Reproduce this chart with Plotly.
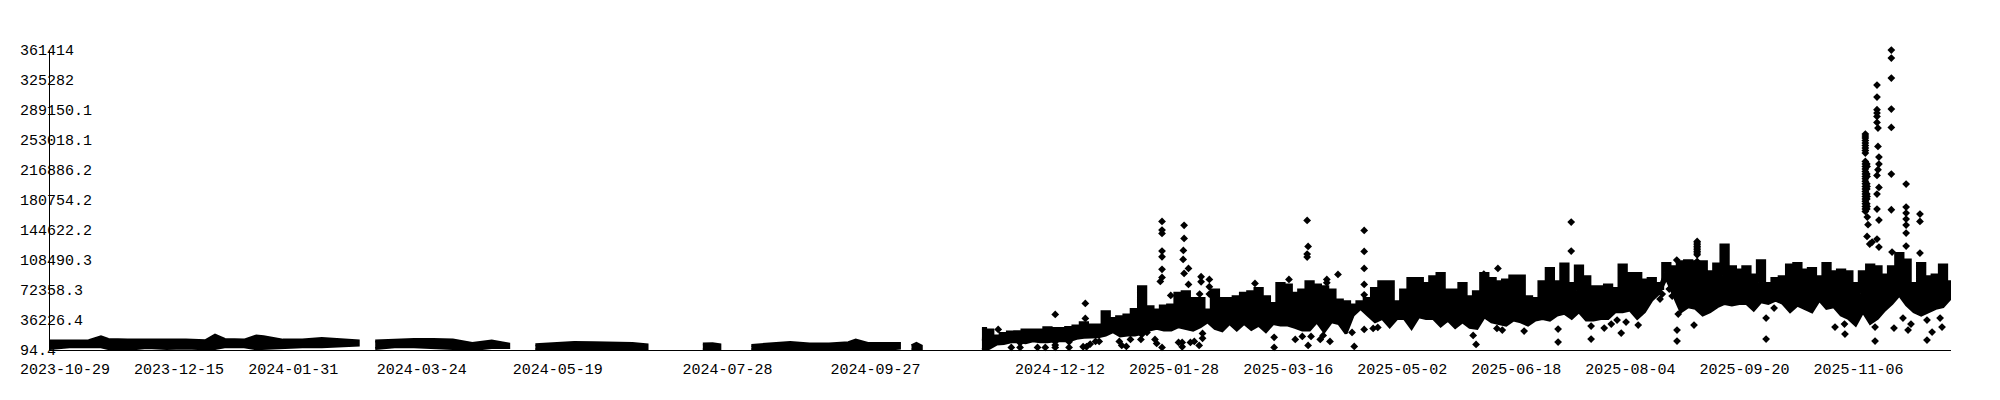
import pandas as pd
import plotly.graph_objects as go

# ---- axis labels
y_tick_values = [94.4, 36226.4, 72358.3, 108490.3, 144622.2, 180754.2, 216886.2, 253018.1, 289150.1, 325282, 361414]
y_tick_labels = ["94.4", "36226.4", "72358.3", "108490.3", "144622.2", "180754.2", "216886.2", "253018.1", "289150.1", "325282", "361414"]
x_tick_dates = ["2023-10-29", "2023-12-15", "2024-01-31", "2024-03-24", "2024-05-19", "2024-07-28", "2024-09-27",
                "2024-12-12", "2025-01-28", "2025-03-16", "2025-05-02", "2025-06-18", "2025-08-04", "2025-09-20", "2025-11-06"]
x_start = "2023-10-29"
x_end = "2025-12-20 07:00"

# ---- early periods: per-period low/high of the dense cloud (thousands)
seg1_dates = ["2023-10-29", "2023-11-06", "2023-11-14", "2023-11-19", "2023-11-22", "2023-11-30", "2023-12-08", "2023-12-16", "2023-12-24", "2024-01-01",
              "2024-01-05", "2024-01-09", "2024-01-17", "2024-01-22", "2024-01-25", "2024-02-02", "2024-02-10", "2024-02-18", "2024-02-26", "2024-03-04"]
seg1_high = [10.8, 10.8, 11.2, 16.0, 12.8, 12.0, 12.0, 12.8, 12.0, 11.2, 18.0, 12.8, 12.0, 17.0, 16.0, 12.0, 12.0, 14.0, 12.0, 11.0]
seg1_low = [2.0, 4.0, 4.0, 4.0, 2.0, 0.8, 3.2, 2.0, 2.4, 1.6, 2.0, 4.0, 4.0, 1.6, 1.6, 3.2, 4.0, 4.0, 5.2, 6.0]

seg2_dates = ["2024-03-11", "2024-03-19", "2024-03-27", "2024-04-04", "2024-04-12", "2024-04-20", "2024-04-28", "2024-05-05"]
seg2_high = [10.8, 12.0, 12.8, 12.8, 12.0, 8.0, 10.8, 7.2]
seg2_low = [2.0, 4.0, 4.0, 3.2, 2.0, 0.5, 3.2, 3.2]

seg3_dates = ["2024-05-16", "2024-05-24", "2024-06-01", "2024-06-09", "2024-06-17", "2024-06-25", "2024-07-01"]
seg3_high = [6.4, 8.0, 9.2, 8.8, 8.0, 8.0, 6.4]
seg3_low = [0.5, 0.5, 0.8, 1.6, 0.5, 0.8, 1.6]

seg4_dates = ["2024-07-24", "2024-07-28", "2024-07-31"]
seg4_high = [7.2, 7.6, 6.4]
seg4_low = [0.5, 0.8, 0.8]

seg5_dates = ["2024-08-13", "2024-08-21", "2024-08-29", "2024-09-06", "2024-09-14", "2024-09-22", "2024-09-25", "2024-09-30", "2024-10-08", "2024-10-13"]
seg5_high = [5.6, 7.2, 9.2, 7.2, 7.2, 8.8, 12.0, 8.0, 8.0, 8.0]
seg5_low = [0.5, 0.5, 0.8, 0.5, 0.5, 0.5, 0.5, 0.5, 0.8, 2.4]

seg6_dates = ["2024-10-18", "2024-10-20", "2024-10-22"]
seg6_high = [5.0, 8.0, 5.0]
seg6_low = [0.5, 0.5, 0.5]

# ---- main period: low/high of the dense cloud, one pair every three days from 2024-11-16 (thousands)
main_start = "2024-11-16"
main_high = [26.1, 24.1, 16.9, 20.1, 21.7, 22.1, 24.1, 24.1, 24.1, 26.9, 26.1, 26.1, 27.3, 28.9, 32.9, 30.1, 30.1, 46.2, 38.1, 40.2,
             42.2, 49.0, 76.3, 52.2, 48.2, 53.0, 54.2, 68.3, 70.3, 62.2, 62.2, 48.2, 72.3, 62.2, 62.2, 64.2, 68.3, 70.3, 74.3, 64.2,
             56.2, 80.3, 78.3, 68.3, 72.3, 82.3, 78.3, 76.3, 72.3, 60.2, 58.2, 54.2, 58.2, 62.2, 74.3, 82.3, 82.3, 58.2, 72.3, 86.3,
             86.3, 80.3, 88.3, 92.3, 72.3, 72.3, 80.3, 64.2, 70.3, 92.3, 86.3, 82.3, 84.3, 89.1, 89.1, 64.2, 62.2, 82.3, 98.4, 82.3,
             103.6, 80.3, 101.2, 88.3, 76.3, 76.3, 78.3, 74.3, 102.4, 92.3, 92.3, 84.3, 86.3, 80.3, 104.4, 100.4, 106.4, 107.6, 106.4, 106.4,
             94.4, 103.6, 126.5, 100.4, 96.4, 100.4, 90.3, 107.6, 80.3, 86.3, 88.3, 102.4, 104.4, 96.4, 98.4, 88.3, 104.4, 94.4, 96.4, 94.4,
             80.3, 94.4, 102.4, 100.4, 90.3, 100.4, 116.4, 108.4, 80.3, 104.4, 88.3, 90.3, 102.4, 82.3]
main_low = [0.5, 2.0, 7.2, 8.0, 10.0, 10.0, 8.8, 11.2, 10.0, 10.0, 11.2, 11.2, 11.2, 14.1, 15.3, 16.1, 16.1, 18.1, 22.1, 16.9,
            18.1, 18.1, 20.1, 24.1, 26.1, 24.1, 24.1, 28.1, 26.1, 24.1, 28.1, 34.1, 26.1, 23.3, 32.1, 24.1, 32.1, 24.9, 30.1, 22.1,
            32.1, 30.1, 30.1, 27.3, 24.1, 24.1, 34.1, 22.1, 34.1, 32.1, 20.1, 42.2, 50.2, 42.2, 34.1, 38.1, 28.1, 38.1, 38.1, 26.1,
            40.2, 38.1, 38.1, 28.9, 36.1, 27.3, 34.1, 27.3, 26.1, 40.2, 34.1, 32.1, 30.1, 36.1, 34.1, 30.1, 36.1, 38.1, 36.1, 42.2,
            44.2, 38.1, 46.2, 36.1, 36.1, 38.1, 38.1, 46.2, 46.2, 48.2, 38.1, 46.2, 60.2, 68.3, 86.3, 66.2, 46.2, 52.2, 50.2, 42.2,
            46.2, 52.2, 56.2, 54.2, 56.2, 56.2, 48.2, 58.2, 56.2, 60.2, 56.2, 46.2, 54.2, 50.2, 46.2, 60.2, 50.2, 52.2, 42.2, 38.1,
            30.1, 46.2, 32.1, 38.1, 48.2, 56.2, 66.2, 54.2, 46.2, 42.2, 46.2, 50.2, 52.2, 62.2]

# ---- isolated readings: days since 2023-10-29, value (thousands)
outlier_days = [458.2, 458.2, 458.2, 458.2, 458.2, 458.2, 458.2, 457.5, 467.3, 467.3, 467.0, 466.9, 467.3, 469.1, 469.1, 461.8,
                474.3, 474.3, 477.7, 477.7, 477.7, 473.7, 474.2, 518.0, 518.4, 518.0, 518.0, 541.5, 541.5, 541.5, 541.5, 541.5,
                530.7, 526.1, 526.1, 510.5, 496.5, 426.6, 426.6, 414.2, 390.7, 504.4, 504.4, 513.1, 516.0, 518.4, 519.6, 523.4,
                524.6, 527.4, 537.4, 536.5, 541.5, 545.2, 547.1, 396.1, 399.7, 406.9, 410.1, 414.2, 419.9, 425.7, 427.1, 428.6,
                430.8, 432.3, 440.6, 441.6, 443.5, 445.2, 449.5, 449.9, 452.0, 455.3, 456.0, 458.2, 465.0, 466.5, 466.5, 469.9,
                471.5, 473.5, 474.9, 474.9, 586.4, 587.6, 596.2, 596.6, 590.8, 414.2, 419.9, 414.2, 419.9, 399.7,
                626.8, 626.8, 678.7, 678.7, 678.7, 678.7, 678.7, 678.7, 678.7, 758.7, 758.7, 758.7, 758.7, 758.7, 758.7, 758.7,
                752.8, 752.8, 752.8, 752.8, 752.8, 752.8, 753.2, 753.2, 753.6, 753.6, 753.2, 752.8, 753.6, 752.8, 752.8, 753.6,
                752.8, 753.6, 764.8, 764.8, 764.8, 764.8, 764.8, 764.8, 764.8, 770.5, 770.5, 770.5, 759.0,
                748.0, 748.0, 748.0, 748.0, 748.0, 748.0, 748.0, 748.0, 748.0, 748.0, 748.0, 748.0, 748.0, 748.0, 748.0, 748.0,
                748.7, 748.7, 748.7, 748.7, 748.7, 748.8, 749.1, 748.7, 749.8, 750.8,
                621.4, 621.4, 607.4, 598.4, 635.0, 635.0, 640.4, 643.3, 645.7, 647.4, 649.4, 654.4, 670.4, 670.4, 670.9, 677.4,
                707.1, 707.1, 710.4, 735.5, 739.4, 739.6, 752.0, 752.0, 759.8, 765.6, 766.8, 763.5, 773.4, 773.4, 775.5, 778.8,
                779.6, 667.2, 664.3, 668.4, 663.4, 670.3,
                748.0, 748.0, 748.0, 748.0, 748.0, 748.0, 748.0, 748.0, 748.0, 748.0, 748.0, 748.0, 748.0, 748.0,
                748.6, 748.6, 748.6, 748.6, 748.6, 748.6, 748.6, 748.6,
                678.7, 678.7, 678.7, 678.7]
outlier_values = [155.0, 144.5, 140.5, 119.2, 112.4, 97.2, 87.5, 82.7, 150.2, 134.5, 120.0, 109.2, 92.3, 98.4, 79.1, 65.8,
                  88.3, 82.3, 85.1, 76.3, 67.5, 67.5, 59.4, 156.2, 124.9, 115.6, 112.0, 144.1, 118.8, 98.4, 79.1, 66.6,
                  91.1, 85.1, 81.1, 85.1, 80.3, 56.2, 38.1, 43.0, 24.9, 15.3, 3.2, 12.8, 16.5, 5.6, 16.5, 12.8,
                  17.7, 10.4, 4.4, 21.3, 24.9, 26.1, 27.3, 3.2, 3.2, 3.2, 3.2, 3.2, 3.2, 4.0, 4.0, 7.2,
                  10.4, 10.4, 10.4, 5.6, 4.4, 12.8, 12.8, 18.9, 21.3, 12.8, 8.0, 3.2, 9.2, 9.2, 4.0, 9.2,
                  10.4, 5.6, 14.1, 20.1, 17.7, 6.8, 26.1, 98.4, 91.5, 10.0, 10.0, 6.0, 14.1, 8.8,
                  154.2, 119.2, 130.9, 126.9, 122.9, 118.8, 114.8, 106.8, 100.8, 361.3, 351.7, 327.6, 290.3, 268.2, 212.0, 169.0,
                  319.2, 304.7, 289.5, 285.5, 281.4, 274.2, 267.4, 245.3, 232.5, 224.0, 217.2, 210.4, 195.9, 187.9, 169.8, 156.6,
                  133.7, 124.1, 199.9, 172.2, 165.0, 157.8, 150.6, 140.9, 125.3, 163.8, 155.0, 116.8, 118.0,
                  260.2, 255.4, 249.3, 243.3, 237.3, 227.2, 221.2, 215.2, 209.2, 203.2, 197.1, 191.1, 185.1, 179.1, 173.0, 167.0,
                  221.2, 209.2, 197.1, 185.1, 173.0, 160.2, 151.0, 136.9, 127.7, 130.1,
                  25.3, 9.6, 22.9, 24.1, 28.9, 13.2, 26.5, 31.3, 36.1, 20.5, 33.7, 30.1, 24.1, 10.8, 43.4, 30.1,
                  38.5, 13.2, 50.6, 27.7, 31.3, 19.3, 27.7, 10.8, 26.5, 24.1, 31.3, 38.5, 36.1, 12.0, 21.7, 38.5,
                  27.7, 73.5, 67.5, 65.0, 61.4, 108.4,
                  257.8, 252.3, 246.3, 240.3, 224.2, 218.2, 212.2, 206.2, 200.2, 194.1, 188.1, 182.1, 176.1, 170.0,
                  224.2, 212.2, 200.2, 194.1, 188.1, 182.1, 176.1, 170.0,
                  128.9, 124.9, 120.9, 116.8]


def band(dates, high, low, shape="linear"):
    xs = list(dates) + list(dates)[::-1]
    ys = [v * 1000 for v in high] + [v * 1000 for v in low[::-1]]
    return go.Scatter(x=xs, y=ys, mode="lines", fill="toself", fillcolor="#000000",
                      line=dict(color="#000000", width=3, shape=shape),
                      hoverinfo="skip", showlegend=False, cliponaxis=False)


main_dates = pd.date_range(main_start, periods=len(main_high), freq="3D")
main_mid = [(h + l) / 2 for h, l in zip(main_high, main_low)]
origin = pd.Timestamp(x_start)
outlier_dates = [origin + pd.Timedelta(days=d) for d in outlier_days]

fig = go.Figure()
fig.add_trace(band(seg1_dates, seg1_high, seg1_low))
fig.add_trace(band(seg2_dates, seg2_high, seg2_low))
fig.add_trace(band(seg3_dates, seg3_high, seg3_low))
fig.add_trace(band(seg4_dates, seg4_high, seg4_low))
fig.add_trace(band(seg5_dates, seg5_high, seg5_low))
fig.add_trace(band(seg6_dates, seg6_high, seg6_low))
fig.add_trace(band(main_dates, main_high, main_mid, shape="hvh"))
fig.add_trace(band(main_dates, main_mid, main_low))
fig.add_trace(go.Scatter(x=outlier_dates, y=[v * 1000 for v in outlier_values], mode="markers",
                         marker=dict(symbol="diamond", size=6, color="#000000"),
                         hoverinfo="skip", showlegend=False, cliponaxis=False))

font = dict(family="Liberation Mono", size=15, color="#000000")
annotations = [dict(text=label, xref="paper", x=0, xanchor="left", xshift=-30,
                    yref="y", y=value, yanchor="middle", yshift=-1, showarrow=False, font=font, borderpad=0, borderwidth=0)
               for value, label in zip(y_tick_values, y_tick_labels)]
fig.update_layout(
    width=1992, height=392, autosize=False,
    margin=dict(l=42, r=49, t=42, b=50),
    paper_bgcolor="#ffffff", plot_bgcolor="#ffffff", showlegend=False,
    annotations=annotations,
    xaxis=dict(type="date", range=[x_start, x_end], tickmode="array",
               tickvals=x_tick_dates, ticktext=x_tick_dates, ticks="", showgrid=False, zeroline=False,
               showline=True, linecolor="#000000", linewidth=1, tickfont=font,
               ticklabelshift=15, ticklabelstandoff=5, tickangle=0),
    yaxis=dict(range=[94.4, 361414], showticklabels=False,
               ticks="", showgrid=False, zeroline=False, showline=True, linecolor="#000000", linewidth=1),
)
fig.write_html("out.html")
